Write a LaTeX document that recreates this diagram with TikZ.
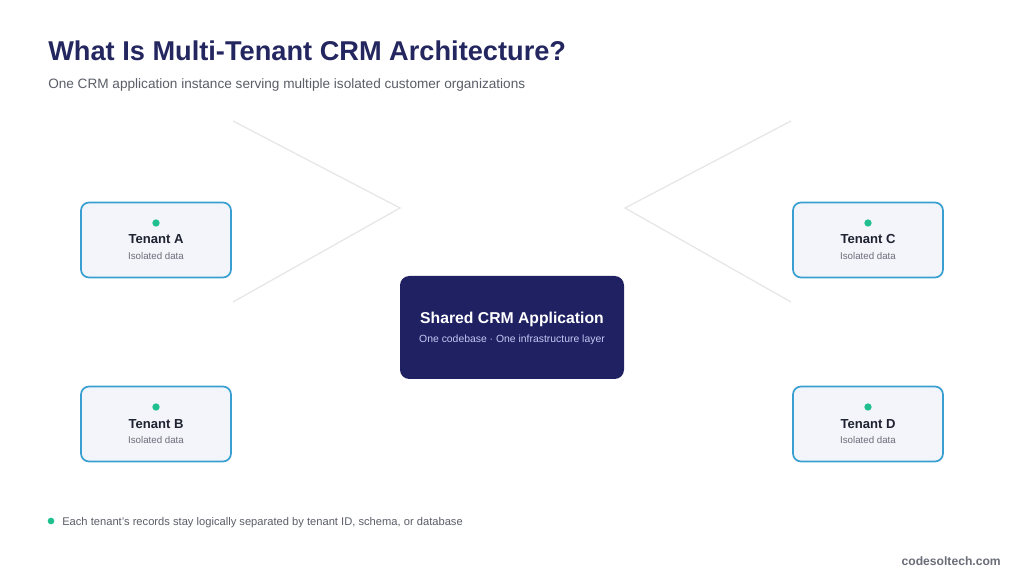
\documentclass[tikz,border=0pt]{standalone}
\usepackage{fontspec}
\setmainfont{Liberation Sans}
\begin{document}
\begin{tikzpicture}[x=0.75pt,y=-0.75pt,
  tenant/.style={draw=tborder,line width=1.3pt,fill=tfill,rounded corners=6pt,minimum width=150*0.75pt,minimum height=75*0.75pt,inner sep=0pt},
  tdot/.style={circle,fill=tgreen,inner sep=0pt,minimum size=5.5pt},
  ttitle/.style={font=\bfseries\fontsize{9.8pt}{11pt}\selectfont,text=ttext},
  tsub/.style={font=\fontsize{7.3pt}{9pt}\selectfont,text=tgrey},
  guide/.style={draw=lgrey,line width=0.9pt}]
\definecolor{tborder}{HTML}{3A9FD1}
\definecolor{tfill}{HTML}{F3F5FB}
\definecolor{tgreen}{HTML}{1FC08E}
\definecolor{ttext}{HTML}{1F2230}
\definecolor{tgrey}{HTML}{6B6E78}
\definecolor{navy}{HTML}{1F2163}
\definecolor{subblue}{HTML}{C3CAF3}
\definecolor{lgrey}{HTML}{E6E6E8}
\definecolor{titlec}{HTML}{242660}
\definecolor{subc}{HTML}{5B5E68}
\useasboundingbox[fill=white] (0,0) rectangle (1024,584);
% title
\node[anchor=base west,inner sep=0pt,text=titlec,font=\bfseries\fontsize{20.4pt}{23pt}\selectfont] (title) at (48,61) {What Is Multi-Tenant CRM Architecture?};
\node[anchor=base west,inner sep=0pt,text=subc,font=\fontsize{10.2pt}{12pt}\selectfont] (subtitle) at (48,89) {One CRM application instance serving multiple isolated customer organizations};
% guide lines
\coordinate (la1) at (233,121); \coordinate (la2) at (400,208); \coordinate (la3) at (233,302);
\coordinate (ra1) at (791,121); \coordinate (ra2) at (625,208); \coordinate (ra3) at (791,302);
\draw[guide] (la1) -- (la2) -- (la3);
\draw[guide] (ra1) -- (ra2) -- (ra3);
% tenants
\foreach \n/\lab/\cx/\cy in {ta/A/156/240, tb/B/156/424, tc/C/868/240, td/D/868/424}{
  \node[tenant] (\n) at (\cx,\cy) {};
  \node[tdot] (\n dot) at (\cx,\cy-17) {};
  \node[ttitle,anchor=base] (\n t) at (\cx,\cy+4) {Tenant \lab};
  \node[tsub,anchor=base] (\n s) at (\cx,\cy+19.5) {Isolated data};
}
% central
\node[fill=navy,rounded corners=7pt,minimum width=224*0.75pt,minimum height=103*0.75pt,inner sep=0pt] (app) at (512,327.5) {};
\node[anchor=base,text=white,font=\bfseries\fontsize{11.8pt}{14pt}\selectfont] (appt) at (512,324) {Shared CRM Application};
\node[anchor=base,text=subblue,font=\fontsize{7.8pt}{9pt}\selectfont] (apps) at (512,343) {One codebase · One infrastructure layer};
% footer
\node[tdot,minimum size=5pt] (fdot) at (51,521) {};
\node[anchor=base west,inner sep=0pt,text=subc,font=\fontsize{8.37pt}{10pt}\selectfont] (fnote) at (62,525) {Each tenant's records stay logically separated by tenant ID, schema, or database};
\node[anchor=base east,inner sep=0pt,text=tgrey,font=\bfseries\fontsize{9.1pt}{11pt}\selectfont] (brand) at (1001,565) {codesoltech.com};
\end{tikzpicture}
\end{document}
